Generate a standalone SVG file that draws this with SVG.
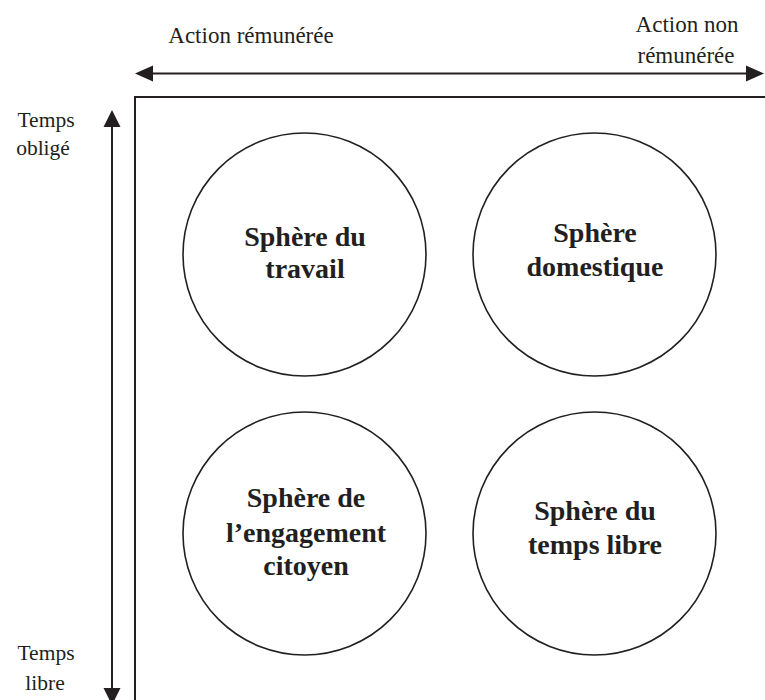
<svg xmlns="http://www.w3.org/2000/svg" width="765" height="700" viewBox="0 0 765 700">
  <style>
    .lbl { font-family: "Liberation Serif", "Times New Roman", serif; font-size: 23px; fill: #231f20; text-anchor: middle; }
    .side { font-family: "Liberation Serif", "Times New Roman", serif; font-size: 21.5px; fill: #231f20; text-anchor: middle; }
    .node circle { fill: #ffffff; stroke: #231f20; stroke-width: 1.6; }
    .node text { font-family: "Liberation Serif", "Times New Roman", serif; font-size: 28px; font-weight: bold; fill: #231f20; text-anchor: middle; }
    .axis { stroke: #231f20; stroke-width: 2; fill: none; }
    .head { fill: #231f20; stroke: none; }
  </style>
  <rect width="765" height="700" fill="#ffffff"/>

  <path id="frame" class="axis" d="M135,710 V97 H780"/>

  <g id="connectors">
    <line class="axis" x1="150" y1="73.5" x2="750" y2="73.5"/>
    <polygon class="head" points="135,73.5 153,65.5 153,81.5"/>
    <polygon class="head" points="764,73.5 746,65.5 746,81.5"/>
    <line class="axis" x1="112" y1="124" x2="112" y2="692"/>
    <polygon class="head" points="112,110 103.5,127 120.5,127"/>
    <polygon class="head" points="112,705 103.5,688 120.5,688"/>
  </g>

  <g id="labels">
    <text class="lbl" x="251" y="43">Action rémunérée</text>
    <text class="lbl" x="687" y="32">Action non</text>
    <text class="lbl" x="686" y="63">rémunérée</text>
    <text class="side" x="46" y="127">Temps</text>
    <text class="side" x="43" y="155">obligé</text>
    <text class="side" x="46" y="660">Temps</text>
    <text class="side" x="45" y="690">libre</text>
  </g>

  <g id="travail" class="node">
    <circle cx="304.5" cy="254.5" r="121.5"/>
    <text x="305" y="246">Sphère du</text>
    <text x="305" y="278">travail</text>
  </g>
  <g id="domestique" class="node">
    <circle cx="594.5" cy="254.5" r="121.5"/>
    <text x="595" y="242">Sphère</text>
    <text x="595" y="276">domestique</text>
  </g>
  <g id="engagement" class="node">
    <circle cx="304.5" cy="533.5" r="121.5"/>
    <text x="306" y="507">Sphère de</text>
    <text x="306" y="542">l’engagement</text>
    <text x="306" y="575">citoyen</text>
  </g>
  <g id="tempslibre" class="node">
    <circle cx="594.5" cy="533.5" r="121.5"/>
    <text x="595" y="520">Sphère du</text>
    <text x="595" y="554">temps libre</text>
  </g>
</svg>
